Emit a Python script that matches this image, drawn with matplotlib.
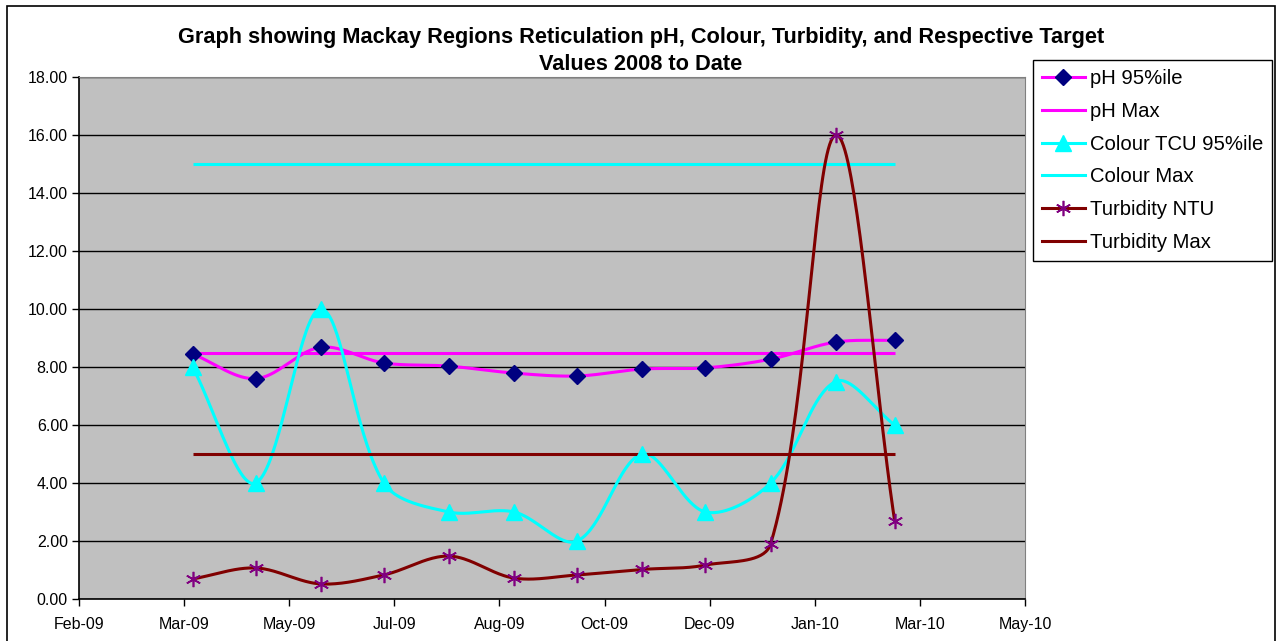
import numpy as np
import matplotlib
matplotlib.use("Agg")
import matplotlib.pyplot as plt
import matplotlib.dates as mdates
from matplotlib.patches import Rectangle
from datetime import date, timedelta

plt.rcParams['font.family'] = ['Liberation Sans', 'DejaVu Sans']

# monthly sample dates (month ends)
months = ["2009-03-31", "2009-04-30", "2009-05-31", "2009-06-30", "2009-07-31", "2009-08-31",
          "2009-09-30", "2009-10-31", "2009-11-30", "2009-12-31", "2010-01-31", "2010-02-28"]

ph_95 = [8.45, 7.6, 8.68, 8.14, 8.03, 7.79, 7.69, 7.93, 7.97, 8.27, 8.86, 8.92]
ph_max = 8.5
colour_95 = [8.0, 4.0, 10.0, 4.0, 3.0, 3.0, 2.0, 5.0, 3.0, 4.0, 7.5, 6.0]
colour_max = 15.0
turb_ntu = [0.69, 1.07, 0.52, 0.83, 1.48, 0.72, 0.83, 1.02, 1.17, 1.9, 16.0, 2.69]
turb_max = 5.0

y_ticks = [0, 2, 4, 6, 8, 10, 12, 14, 16, 18]

# approx screen scale (px per day, px per unit) used for the smoothing shape
SX, SY = 2.103, 29.0


def smooth(x, y, n=40):
    # Excel-like smoothed line: Bezier segments, tangent from neighbours,
    # control length scaled by segment length (done in screen space)
    X = np.asarray(x, float) * SX
    Y = np.asarray(y, float) * SY
    P = np.column_stack([X, Y])
    m = len(P)
    t = np.linspace(0, 1, n)[:, None]
    out = []
    for i in range(m - 1):
        a, b = P[i], P[i + 1]
        seg = np.linalg.norm(b - a)
        pa = P[max(i - 1, 0)]
        ta = b - pa
        la = np.linalg.norm(a - pa) + seg
        c1 = a + ta * (seg / la) / 3 if la > 0 else a
        nb = P[min(i + 2, m - 1)]
        tb = nb - a
        lb = seg + np.linalg.norm(nb - b)
        c2 = b - tb * (seg / lb) / 3 if lb > 0 else b
        bez = (1 - t) ** 3 * a + 3 * (1 - t) ** 2 * t * c1 + 3 * (1 - t) * t ** 2 * c2 + t ** 3 * b
        out.append(bez)
    out = np.vstack(out)
    return out[:, 0] / SX, out[:, 1] / SY


xd = mdates.datestr2num(months)

fig = plt.figure(figsize=(12.82, 6.41), dpi=100)
fig.patches.append(Rectangle((7 / 1282, -0.01), (1275 - 7) / 1282, 1 - 6 / 641 + 0.01,
                             transform=fig.transFigure, fill=False, edgecolor='black', lw=1.2))
ax = fig.add_axes([79 / 1282, 42 / 641, (1025 - 79) / 1282, (599 - 77) / 641])
ax.set_facecolor('#C0C0C0')

lw = 2.2
series = [
    ("pH 95%ile", ph_95, '#FF00FF', dict(marker='D', ms=8, mfc='#000080', mec='#000080'), True),
    ("pH Max", [ph_max] * len(xd), '#FF00FF', dict(marker=None), False),
    ("Colour TCU 95%ile", colour_95, '#00FFFF', dict(marker='^', ms=11, mfc='#00FFFF', mec='#00FFFF'), True),
    ("Colour Max", [colour_max] * len(xd), '#00FFFF', dict(marker=None), False),
    ("Turbidity NTU", turb_ntu, '#800000', dict(marker=(6, 2, 0), ms=11, mfc='#800080', mec='#800080', mew=1.2), True),
    ("Turbidity Max", [turb_max] * len(xd), '#800000', dict(marker=None), False),
]

handles = []
for label, vals, col, mk, smooth_it in series:
    if smooth_it:
        sx, sy = smooth(xd, vals)
    else:
        sx, sy = xd, np.asarray(vals)
    ax.plot(sx, sy, color=col, lw=lw, zorder=3, solid_capstyle='butt')
    if mk.get('marker') is not None:
        ax.plot(xd, vals, ls='none', zorder=4, **mk)
    h, = ax.plot([], [], color=col, lw=lw, label=label, **mk)
    handles.append(h)

start = date(2009, 2, 5)
ticks = [start + timedelta(days=50 * k) for k in range(10)]
ax.set_xlim(mdates.date2num(ticks[0]), mdates.date2num(ticks[-1]))
ax.set_xticks(mdates.date2num(ticks))
ax.xaxis.set_major_formatter(mdates.DateFormatter('%b-%y'))
ax.set_ylim(0, 18)
ax.set_yticks(y_ticks)
ax.set_yticklabels(["%.2f" % v for v in y_ticks])
ax.yaxis.grid(True, color='black', lw=1.0, zorder=1)
ax.set_axisbelow(True)

ax.tick_params(axis='both', direction='out', length=5, width=1, color='black', labelsize=11.5)
ax.tick_params(axis='x', pad=8)
ax.tick_params(axis='y', pad=3)
for s in ['top', 'right']:
    ax.spines[s].set_color('#808080')
for s in ['left', 'bottom']:
    ax.spines[s].set_color('black')
    ax.spines[s].set_linewidth(1.2)

fig.text(0.5, 1 - 38 / 641,
         "Graph showing Mackay Regions Reticulation pH, Colour, Turbidity, and Respective Target",
         ha='center', va='center', fontsize=15.7, fontweight='bold')
fig.text(0.5, 1 - 65 / 641, "Values 2008 to Date",
         ha='center', va='center', fontsize=15.7, fontweight='bold')

leg = fig.legend(handles=handles, loc='upper left', bbox_to_anchor=(1033 / 1282, 1 - 60 / 641),
                 fontsize=14.6, frameon=True, fancybox=False, edgecolor='black', framealpha=1,
                 handlelength=2.1, handletextpad=0.25, labelspacing=0.68, borderpad=0.45,
                 borderaxespad=0)
leg.get_frame().set_linewidth(1.0)

fig.savefig("out.png", dpi=100)
